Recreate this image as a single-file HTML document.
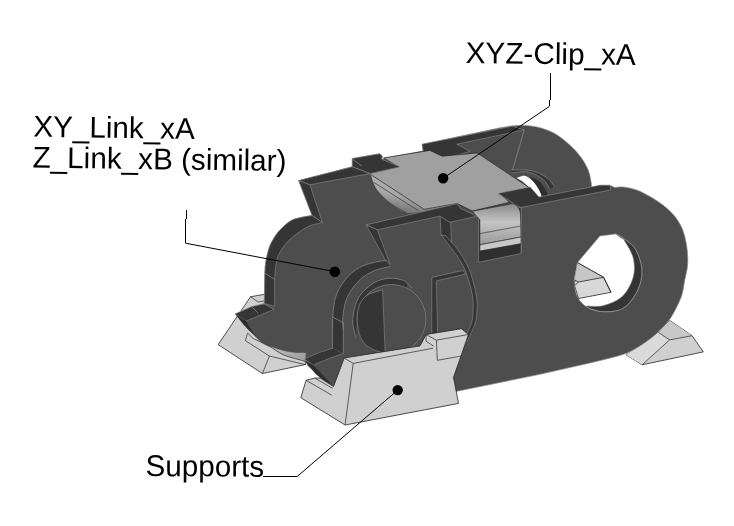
<!DOCTYPE html>
<html><head><meta charset="utf-8"><style>
html,body{margin:0;padding:0;background:#fff;}
body{width:734px;height:526px;overflow:hidden;position:relative;}
svg{position:absolute;left:0;top:0;will-change:transform;}
.t{font-family:"Liberation Sans",sans-serif;font-size:30px;fill:#000;text-rendering:geometricPrecision;}
</style></head><body>
<svg width="734" height="526" viewBox="0 0 734 526" shape-rendering="geometricPrecision">
<path d="M250.6,296.7 L264.2,294.4 L300.0,330.0 L305.7,364.5 L262.4,373.5 L218.1,344.6 Z" fill="#d0d0d0" stroke="#262626" stroke-width="0.8" />
<path d="M262.4,373.5 L269.4,356.0 L305.4,364.7" fill="none" stroke="#262626" stroke-width="0.7" />
<path d="M245.4,340.7 L269.4,356.0" fill="none" stroke="#262626" stroke-width="0.7" />
<path d="M253.1,338.5 L247.6,333.1 L245.4,340.7" fill="none" stroke="#262626" stroke-width="0.7" />
<path d="M250.6,296.7 L258.0,302.0 L264.2,301.0" fill="none" stroke="#262626" stroke-width="0.7" />
<path d="M669.6,320.4 L692.1,335.7 L703.3,351.9 L642.2,364.8 L626.0,354.8 L658.4,332.4 Z" fill="#d0d0d0" stroke="#262626" stroke-width="0.8" />
<path d="M669.6,320.4 L692.1,335.7 L669.6,339.9 L658.4,332.4 Z" fill="#c8c8c8" stroke="none" stroke-width="0.7" />
<path d="M658.4,332.4 L669.6,339.9 L642.2,364.8 L626.0,354.8 Z" fill="#dadada" stroke="none" stroke-width="0.7" />
<path d="M658.4,332.4 L669.6,339.9 L692.1,335.7" fill="none" stroke="#262626" stroke-width="0.7" />
<path d="M669.6,339.9 L642.2,364.8" fill="none" stroke="#262626" stroke-width="0.7" />
<path d="M298.7,180.6 L352.3,166.8 L352.3,158.6 L379.5,153.8 L382.2,155.9 L381.8,159.3 L386.3,157.9 L423.0,151.0 L422.4,144.3 L500.0,127.8 L500.0,127.8 C502.4,127.5 509.5,126.0 514.3,125.7 C519.0,125.4 523.8,125.2 528.5,125.7 C533.2,126.2 538.0,127.0 542.8,128.6 C547.6,130.2 552.4,132.0 557.1,135.0 C561.9,138.0 567.3,142.6 571.3,146.4 C575.3,150.2 578.4,153.8 581.3,157.8 C584.1,161.8 586.7,166.3 588.4,170.6 C590.1,174.9 590.8,180.6 591.3,183.5 C591.8,186.4 591.3,187.1 591.3,187.8 L599.9,185.3 L609.8,185.3 L614.8,187.5 L614.8,187.5 C616.2,187.4 619.7,186.6 623.3,187.0 C626.9,187.4 632.1,188.4 636.6,190.0 C641.1,191.6 645.5,194.0 650.0,196.6 C654.5,199.2 659.3,202.2 663.3,205.3 C667.3,208.4 671.0,212.0 673.9,215.3 C676.8,218.6 678.8,221.9 680.6,225.3 C682.4,228.7 683.5,231.8 684.6,235.9 C685.7,240.0 686.7,245.2 687.2,250.0 C687.7,254.8 688.0,260.0 687.6,265.0 C687.2,270.0 685.8,275.0 684.8,280.0 C683.8,285.0 683.3,290.4 681.8,295.2 C680.3,300.0 677.9,304.7 675.7,308.9 C673.5,313.1 671.8,316.5 668.8,320.4 C665.8,324.3 661.3,328.8 657.4,332.5 C653.5,336.2 649.8,339.2 645.2,342.4 C640.6,345.6 634.5,349.3 630.0,351.6 C625.5,353.9 624.7,354.1 618.0,356.0 C611.3,357.9 594.6,361.8 589.9,363.0 L540.0,374.3 L454.8,391.7 L420.0,390.0 L345.0,380.0 L333.5,386.5 L308.0,366.1 L304.4,358.9 L305.4,353.0 L305.4,353.0 C303.2,352.9 296.9,353.3 292.3,352.7 C287.8,352.1 283.0,350.9 278.1,349.4 C273.2,347.9 267.2,346.1 263.0,343.5 C258.8,340.9 256.0,336.9 253.0,334.0 C250.0,331.1 247.9,329.4 245.0,326.0 C242.1,322.6 236.9,315.9 235.3,313.9 L251.5,306.7 L264.4,303.5 L264.4,303.5 C264.4,301.2 264.5,295.6 264.6,290.0 C264.7,284.4 264.7,275.2 265.0,270.0 C265.3,264.8 265.6,262.7 266.4,258.7 C267.2,254.7 268.6,249.3 269.8,246.1 C271.0,242.8 272.0,241.5 273.3,239.2 C274.6,236.9 275.9,234.7 277.8,232.4 C279.7,230.1 282.2,227.6 284.7,225.5 C287.2,223.4 289.6,221.2 292.7,219.8 C295.8,218.4 299.8,217.7 303.0,217.0 C306.2,216.3 310.6,215.8 312.1,215.5 Z" fill="#4d4d4d" stroke="#8c8c8c" stroke-width="0.7" />
<defs><linearGradient id="ug" x1="0" y1="0" x2="1" y2="0"><stop offset="0" stop-color="#c8c8c8"/><stop offset="1" stop-color="#a0a0a0"/></linearGradient></defs>
<path d="M253.1,338.5 C254.8,339.3 258.8,341.7 263.0,343.5 C267.2,345.3 273.2,347.9 278.1,349.4 C283.0,350.9 287.8,352.1 292.3,352.7 C296.9,353.3 303.2,352.9 305.4,353.0 L305.4,361.4  C301.8,360.3 289.6,357.4 283.6,354.9 C277.6,352.4 274.5,348.9 269.4,346.2 C264.3,343.5 255.8,339.8 253.1,338.5 Z" fill="url(#ug)" stroke="none" stroke-width="0.8" />
<path d="M253.1,338.5 C255.8,339.8 264.3,343.5 269.4,346.2 C274.5,348.9 277.6,352.4 283.6,354.9 C289.6,357.4 301.8,360.3 305.4,361.4" fill="none" stroke="#262626" stroke-width="0.7" />
<path d="M422.0,144.2 L512.3,126.2 L524.2,129.9 L456.8,144.2 L470.0,151.3 L444.5,158.5 L425.0,160.0 Z" fill="#353535" stroke="#8c8c8c" stroke-width="0.6" />
<path d="M524.2,129.9 L512.0,171.7" fill="none" stroke="#8c8c8c" stroke-width="0.7" />
<path d="M511.4,169.9 C514.7,170.0 525.4,169.3 531.4,170.6 C537.4,171.9 543.3,175.2 547.1,177.8 C550.9,180.4 553.0,184.9 554.2,186.3 L549.9,189.2  C548.7,187.5 546.4,182.0 542.8,179.2 C539.2,176.3 533.7,173.2 528.5,172.1 C523.3,171.0 514.2,172.7 511.4,172.8 Z" fill="#353535" stroke="none" stroke-width="0.8" />
<path d="M511.4,169.9 C514.7,170.0 525.4,169.3 531.4,170.6 C537.4,171.9 543.3,175.2 547.1,177.8 C550.9,180.4 553.0,184.9 554.2,186.3" fill="none" stroke="#8c8c8c" stroke-width="0.7" />
<path d="M511.4,172.8 C514.2,172.7 523.3,171.0 528.5,172.1 C533.7,173.2 539.2,176.3 542.8,179.2 C546.4,182.0 548.7,187.5 549.9,189.2" fill="none" stroke="#8c8c8c" stroke-width="0.7" />
<path d="M530.0,176.5 C531.7,177.4 537.2,179.4 540.0,182.0 C542.8,184.6 545.3,189.5 546.5,192.0 C547.7,194.5 547.9,196.2 547.0,197.0 C546.1,197.8 542.0,197.0 541.0,197.0 Z" fill="#2e2e2e" stroke="none" stroke-width="0.8" />
<path d="M516.2,178.0 C517.6,177.6 522.1,175.2 524.8,175.7 C527.5,176.2 530.3,178.7 532.5,180.8 C534.7,182.9 536.7,185.9 538.2,188.4 C539.7,190.9 541.6,194.8 541.4,196.1 C541.2,197.4 539.2,197.4 537.2,196.1 C535.2,194.8 532.0,190.8 529.6,188.4 C527.2,186.0 525.1,183.5 522.9,181.8 C520.7,180.1 517.3,178.6 516.2,178.0 Z" fill="#fff" stroke="none" stroke-width="0.8" />
<defs><linearGradient id="lip" x1="0.15" y1="0.9" x2="0.45" y2="0.2"><stop offset="0" stop-color="#707070"/><stop offset="0.5" stop-color="#a8a8a8"/><stop offset="1" stop-color="#b0b0b0"/></linearGradient></defs>
<path d="M369.5,174.0 C369.7,174.2 370.1,174.0 370.7,175.5 C371.3,177.0 371.9,180.5 373.0,183.0 C374.1,185.5 374.8,187.5 377.4,190.7 C380.0,193.9 384.0,198.5 388.8,202.2 C393.6,205.9 400.1,211.2 406.0,212.7 C411.9,214.2 421.1,211.3 424.1,211.0 L457.2,203.5 L450,200 L380,172 Z" fill="url(#lip)" stroke="none" stroke-width="0.8" />
<path d="M370.7,175.5 C371.1,176.8 371.9,180.5 373.0,183.0 C374.1,185.5 374.8,187.5 377.4,190.7 C380.0,193.9 384.0,198.5 388.8,202.2 C393.6,205.9 403.1,210.9 406.0,212.7" fill="none" stroke="#262626" stroke-width="0.6" />
<path d="M373.6,182.2 L418.4,210.8" fill="none" stroke="#262626" stroke-width="0.6" />
<path d="M383.7,157.9 L429.8,150.4 L442.3,156.2 L477.2,152.9 L529.5,187.8 L499.6,193.6 L509.6,202.3 L472.2,211.0 L457.2,203.5 L424.1,209.3 L369.3,173.6 L398.4,166.9 Z" fill="#a0a0a0" stroke="#262626" stroke-width="0.7" />
<path d="M352.3,158.6 L379.5,153.8 L382.2,155.9 L381.8,159.3 L400.0,166.8 L370.0,173.6 L352.3,166.8 Z" fill="#353535" stroke="#8c8c8c" stroke-width="0.6" />
<path d="M353.0,159.5 L362.0,166.0" fill="none" stroke="#8c8c8c" stroke-width="0.7" />
<path d="M298.7,180.6 L352.3,166.8 L369.8,173.6 L309.9,184.8 Z" fill="#353535" stroke="#8c8c8c" stroke-width="0.6" />
<path d="M298.7,180.6 L309.9,184.8 L322.4,222.7 L312.1,215.5 Z" fill="#353535" stroke="#8c8c8c" stroke-width="0.6" />
<path d="M312.1,215.5 C310.6,215.8 306.2,216.3 303.0,217.0 C299.8,217.7 295.8,218.4 292.7,219.8 C289.6,221.2 287.2,223.4 284.7,225.5 C282.2,227.6 279.7,230.1 277.8,232.4 C275.9,234.7 274.6,236.9 273.3,239.2 C272.0,241.5 271.0,242.8 269.8,246.1 C268.6,249.3 267.2,254.7 266.4,258.7 C265.6,262.7 265.3,264.8 265.0,270.0 C264.7,275.2 264.7,284.4 264.6,290.0 C264.5,295.6 264.4,301.2 264.4,303.5 L274.7,306.4 L274.7,306.4 C274.7,301.6 274.4,285.2 274.7,277.8 C275.0,270.4 275.8,265.9 276.5,262.0 C277.2,258.1 277.6,256.9 279.0,254.1 C280.4,251.3 282.4,247.8 284.7,245.0 C287.0,242.2 289.6,239.6 292.7,237.0 C295.8,234.4 299.8,231.5 303.0,229.5 C306.2,227.5 308.9,226.1 312.1,225.0 C315.3,223.9 320.7,223.1 322.4,222.7 Z" fill="#353535" stroke="#8c8c8c" stroke-width="0.6" />
<path d="M265.0,273.3 L274.7,279.5" fill="none" stroke="#8c8c8c" stroke-width="0.7" />
<path d="M235.3,313.9 L251.5,306.7 L264.2,304.0 L274.1,309.4 L246.1,321.1 Z" fill="#353535" stroke="#8c8c8c" stroke-width="0.6" />
<path d="M251.5,306.7 L258.0,313.0" fill="none" stroke="#8c8c8c" stroke-width="0.7" />
<path d="M235.3,313.9 C236.9,315.9 242.1,322.6 245.0,326.0 C247.9,329.4 250.0,331.1 253.0,334.0 C256.0,336.9 261.3,341.9 263.0,343.5 C261.5,341.9 257.0,337.9 254.2,334.2 C251.4,330.5 247.4,323.3 246.1,321.1 Z" fill="#2e2e2e" stroke="none" stroke-width="0.8" />
<path d="M304.4,358.9 L318.9,352.6 L333.3,348.1 L343.3,353.5 L327.9,358.9 L313.5,365.2 Z" fill="#353535" stroke="#8c8c8c" stroke-width="0.6" />
<path d="M305.0,361.0 C307.2,363.5 313.2,371.8 318.0,376.0 C322.8,380.2 330.9,384.8 333.5,386.5 L313.5,365.2 Z" fill="#2e2e2e" stroke="none" stroke-width="0.8" />
<path d="M332.4,326.0 L343.3,326.0 L343.3,353.5 L332.4,348.1 Z" fill="#353535" stroke="none" stroke-width="0.7" />
<path d="M332.4,320.0 L332.4,348.1" fill="none" stroke="#8c8c8c" stroke-width="0.7" />
<path d="M343.3,322.0 L343.3,353.5" fill="none" stroke="#8c8c8c" stroke-width="0.7" />
<path d="M366.1,224.9 L457.1,203.7 L460.8,208.7 L477.0,216.2 L449.6,222.4 L439.6,216.2 L377.3,229.9 Z" fill="#353535" stroke="#8c8c8c" stroke-width="0.6" />
<path d="M366.1,224.9 L377.3,229.9 L390.0,264.0 L388.5,265.5 Z" fill="#353535" stroke="#8c8c8c" stroke-width="0.6" />
<path d="M440.1,216.3 L450.7,222.8 L451.5,245.7 L441.0,235.0 Z" fill="#353535" stroke="#8c8c8c" stroke-width="0.6" />
<path d="M389.5,264.5 C388.7,263.9 388.9,260.5 384.6,260.7 C380.3,260.9 369.7,263.0 363.7,265.5 C357.7,268.0 352.9,271.3 348.5,275.9 C344.1,280.5 339.6,287.3 337.1,293.0 C334.6,298.7 334.1,303.9 333.3,310.1 C332.5,316.3 332.5,326.7 332.4,330.0 L343.3,330.0 L343.3,330.0 C343.2,327.9 342.2,322.9 342.8,317.7 C343.4,312.5 344.1,304.7 346.6,298.7 C349.1,292.7 353.6,286.2 358.0,281.6 C362.4,277.0 367.8,273.7 373.2,271.2 C378.6,268.7 387.4,267.2 390.3,266.4 Z" fill="#353535" stroke="none" stroke-width="0.8" />
<path d="M389.5,264.5 C388.7,263.9 388.9,260.5 384.6,260.7 C380.3,260.9 369.7,263.0 363.7,265.5 C357.7,268.0 352.9,271.3 348.5,275.9 C344.1,280.5 339.6,287.3 337.1,293.0 C334.6,298.7 334.1,303.9 333.3,310.1 C332.5,316.3 332.5,326.7 332.4,330.0" fill="none" stroke="#8c8c8c" stroke-width="0.7" />
<path d="M343.3,330.0 C343.2,327.9 342.2,322.9 342.8,317.7 C343.4,312.5 344.1,304.7 346.6,298.7 C349.1,292.7 353.6,286.2 358.0,281.6 C362.4,277.0 367.8,273.7 373.2,271.2 C378.6,268.7 387.4,267.2 390.3,266.4" fill="none" stroke="#8c8c8c" stroke-width="0.7" />
<path d="M332.4,316.8 L342.8,322.5" fill="none" stroke="#8c8c8c" stroke-width="0.7" />
<path d="M446.0,236.0 C448.0,238.3 454.7,245.5 458.0,250.0 C461.3,254.5 463.8,258.9 466.0,263.0 C468.2,267.1 469.5,269.4 471.2,274.9 C472.9,280.3 475.4,289.8 476.4,295.7 C477.4,301.6 477.2,305.4 477.0,310.0 C476.8,314.6 476.8,317.8 475.2,323.0 C473.6,328.2 468.5,338.2 467.2,341.3 L463.5,341.0 L463.5,341.0 C464.8,338.0 469.9,328.2 471.5,323.0 C473.1,317.8 472.8,314.6 473.0,310.0 C473.2,305.4 473.5,301.5 472.5,295.7 C471.5,289.9 468.9,280.6 467.0,275.0 C465.1,269.4 463.5,266.3 461.0,262.0 C458.5,257.7 455.3,253.5 452.0,249.0 C448.7,244.5 442.8,237.3 441.0,235.0 Z" fill="#353535" stroke="#8c8c8c" stroke-width="0.6" />
<path d="M431.8,277.4 L462.7,270.5 L466.1,274.0 L436.4,280.8 L437.6,334.0 L431.8,334.0 Z" fill="#353535" stroke="#8c8c8c" stroke-width="0.6" />
<path d="M356.0,338.0 C355.4,334.9 352.2,326.4 352.7,319.6 C353.1,312.8 355.1,303.5 358.7,297.4 C362.3,291.3 369.0,286.0 374.1,282.8 C379.2,279.6 384.6,278.6 389.5,278.2 C394.4,277.8 400.2,279.4 403.2,280.3 C406.2,281.2 406.8,283.1 407.5,283.7 L406.1,287.7 A34.5,34.5 0 0 0 357,319 Z" fill="#353535" stroke="none" stroke-width="0.8" />
<path d="M356.0,338.0 C355.4,334.9 352.2,326.4 352.7,319.6 C353.1,312.8 355.1,303.5 358.7,297.4 C362.3,291.3 369.0,286.0 374.1,282.8 C379.2,279.6 384.6,278.6 389.5,278.2 C394.4,277.8 400.2,279.4 403.2,280.3 C406.2,281.2 406.0,282.4 407.5,283.7 C409.0,285.0 411.2,287.3 412.0,288.0" fill="none" stroke="#8c8c8c" stroke-width="0.7" />
<circle cx="391.5" cy="319" r="34.5" fill="#4d4d4d" stroke="#8c8c8c" stroke-width="0.6"/>
<path d="M385.2,353.2 C383.0,352.5 375.9,351.2 372.0,349.0 C368.1,346.8 364.4,344.0 362.0,340.0 C359.6,336.0 358.1,330.3 357.5,325.0 C356.9,319.7 357.1,312.8 358.5,308.0 C359.9,303.2 362.0,299.1 366.0,296.0 C370.0,292.9 379.8,290.8 382.6,289.7 Z" fill="#353535" stroke="#8c8c8c" stroke-width="0.6" />
<path d="M498.0,193.4 L530.1,186.9 L539.0,197.0 L599.9,185.3 L609.8,185.3 L611.1,189.8 L604.9,191.1 L520.3,207.6 Z" fill="#353535" stroke="#8c8c8c" stroke-width="0.6" />
<path d="M521.0,207.4 L521.0,253.5" fill="none" stroke="#8c8c8c" stroke-width="0.7" />
<path d="M478.6,216.2 L521.0,207.4 L521.0,253.5 L478.6,262.3 Z" fill="#2f2f2f" stroke="#8c8c8c" stroke-width="0.6" />
<defs><linearGradient id="tab" x1="0" y1="0" x2="0" y2="1"><stop offset="0" stop-color="#8a8a8a"/><stop offset="0.45" stop-color="#c4c4c4"/><stop offset="1" stop-color="#9a9a9a"/></linearGradient></defs>
<path d="M472.4,211.2 L512.3,203.7 C516,204 520,208 520.5,214 L521,237 L479.9,244.8 L479.9,219.9 Z" fill="url(#tab)" stroke="#262626" stroke-width="0.6" />
<path d="M479.9,233.6 L520.5,226.1" fill="none" stroke="#262626" stroke-width="0.6" />
<path d="M479.9,244.8 L521.0,237.0 L521.0,243.6 L479.9,251.0 Z" fill="#c8c8c8" stroke="#262626" stroke-width="0.6" />
<path d="M615.9,233.9 L599.9,235.9 L578,261.9 C577.4,265.2 574.3,275.9 574.3,281.9 C574.3,287.9 575.7,293.5 578.0,297.8 C580.3,302.1 583.7,305.5 588.0,307.8 C592.3,310.1 597.9,311.8 603.9,311.8 C609.9,311.8 618.2,311.5 623.9,307.8 C629.6,304.1 634.9,296.2 637.9,289.9 C640.9,283.6 642.2,276.6 641.9,269.9 C641.6,263.2 638.6,254.9 635.9,249.9 C633.2,244.9 629.2,242.6 625.9,239.9 C622.6,237.2 617.6,234.9 615.9,233.9 Z" fill="#fff" stroke="none" stroke-width="0.8" />
<path d="M577.0,262.4 L603.6,277.3 L611.0,292.3 L578.6,298.5 L574.3,285.0 Z" fill="#d8d8d8" stroke="#262626" stroke-width="0.8" />
<path d="M577.0,262.4 L603.6,277.3 L578.5,282.0 L574.3,280.0 Z" fill="#c6c6c6" stroke="none" stroke-width="0.7" />
<path d="M574.3,280.0 L578.5,282.0 L603.6,277.3" fill="none" stroke="#262626" stroke-width="0.8" />
<path d="M574.3,286.0 L578.5,282.0" fill="none" stroke="#262626" stroke-width="0.8" />
<path d="M577.0,262.4 L603.6,277.3 L611.0,292.3" fill="none" stroke="#262626" stroke-width="0.8" />
<path d="M615.9,233.9 C617.6,234.9 622.6,237.2 625.9,239.9 C629.2,242.6 633.2,244.9 635.9,249.9 C638.6,254.9 641.6,263.2 641.9,269.9 C642.2,276.6 640.9,283.6 637.9,289.9 C634.9,296.2 629.6,304.1 623.9,307.8 C618.2,311.5 609.9,311.8 603.9,311.8 C597.9,311.8 590.6,308.5 588.0,307.8 L586.0,306.0 C589.0,305.9 597.6,307.2 603.7,305.5 C609.8,303.8 617.8,300.8 622.7,296.0 C627.6,291.2 631.5,283.3 633.2,277.0 C635.0,270.7 634.6,264.0 633.2,258.0 C631.8,252.0 626.6,244.2 624.6,240.9 C622.6,237.6 621.6,238.5 621.0,238.0 Z" fill="#353535" stroke="#8c8c8c" stroke-width="0.6" />
<path d="M615.9,233.9 L599.9,235.9 L578,261.9 C577.4,265.2 574.3,275.9 574.3,281.9 C574.3,287.9 575.7,293.5 578.0,297.8 C580.3,302.1 583.7,305.5 588.0,307.8 C592.3,310.1 597.9,311.8 603.9,311.8 C609.9,311.8 618.2,311.5 623.9,307.8 C629.6,304.1 634.9,296.2 637.9,289.9 C640.9,283.6 642.2,276.6 641.9,269.9 C641.6,263.2 638.6,254.9 635.9,249.9 C633.2,244.9 629.2,242.6 625.9,239.9 C622.6,237.2 617.6,234.9 615.9,233.9 Z" fill="none" stroke="#8c8c8c" stroke-width="0.6" />
<path d="M344.2,358.0 L420.0,345.9 L426.1,334.5 L461.5,328.7 L468.4,334.5 L461.0,356.1 L453.5,377.3 L458.5,403.4 L345.1,425.0 L300.8,397.7 L306.1,380.3 L314.7,378.1 L320.0,378.0 L333.5,386.5 Z" fill="#d0d0d0" stroke="#262626" stroke-width="0.8" />
<path d="M353.2,363.4 L433.0,348.2" fill="none" stroke="#262626" stroke-width="0.7" />
<path d="M344.2,358.0 L353.2,363.4 L345.1,425.0" fill="none" stroke="#262626" stroke-width="0.7" />
<path d="M426.1,334.5 L436.4,340.2 L468.4,334.5" fill="none" stroke="#262626" stroke-width="0.7" />
<path d="M436.4,340.2 L437.3,360.3 L461.0,356.1" fill="none" stroke="#262626" stroke-width="0.7" />
<path d="M426.1,334.5 L426.1,341.3 L433.6,346.1" fill="none" stroke="#262626" stroke-width="0.7" />
<path d="M314.7,378.1 L332.7,388.4" fill="none" stroke="#262626" stroke-width="0.7" />
<path d="M306.1,380.3 L331.8,395.2" fill="none" stroke="#262626" stroke-width="0.7" />
<text class="t" x="33.3" y="136.6" textLength="161.4" lengthAdjust="spacingAndGlyphs" transform="rotate(0.85 33.3 136.6)">XY_Link_xA</text>
<text class="t" x="32.5" y="167.6" textLength="253.9" lengthAdjust="spacingAndGlyphs" transform="rotate(0.75 32.5 167.6)">Z_Link_xB (similar)</text>
<text class="t" x="465.5" y="63.0" textLength="170.2" lengthAdjust="spacingAndGlyphs" transform="rotate(0.65 465.5 63.0)">XYZ-Clip_xA</text>
<text class="t" x="145.5" y="476.1" textLength="118.6" lengthAdjust="spacingAndGlyphs" transform="rotate(0.3 145.5 476.1)">Supports</text>
<path d="M550.5,73 V99.8 M549.5,99.8 V106.3" fill="none" stroke="#000" stroke-width="1" shape-rendering="crispEdges"/>
<path d="M549.5,106.3 L443.1,178.3" fill="none" stroke="#000" stroke-width="1.0" />
<path d="M186.5,210 V219 M185.5,219 V243.2" fill="none" stroke="#000" stroke-width="1" shape-rendering="crispEdges"/>
<path d="M185.5,243.2 L334.8,271.7" fill="none" stroke="#000" stroke-width="1.0" />
<path d="M263,476.5 H297.2" fill="none" stroke="#000" stroke-width="1" shape-rendering="crispEdges"/>
<path d="M297.2,476.5 L397.7,390.1" fill="none" stroke="#000" stroke-width="1.0" />
<circle cx="443.1" cy="178.3" r="5.2" fill="#000"/>
<circle cx="334.8" cy="271.7" r="5.2" fill="#000"/>
<circle cx="397.7" cy="390.1" r="5.2" fill="#000"/>
</svg>
</body></html>
